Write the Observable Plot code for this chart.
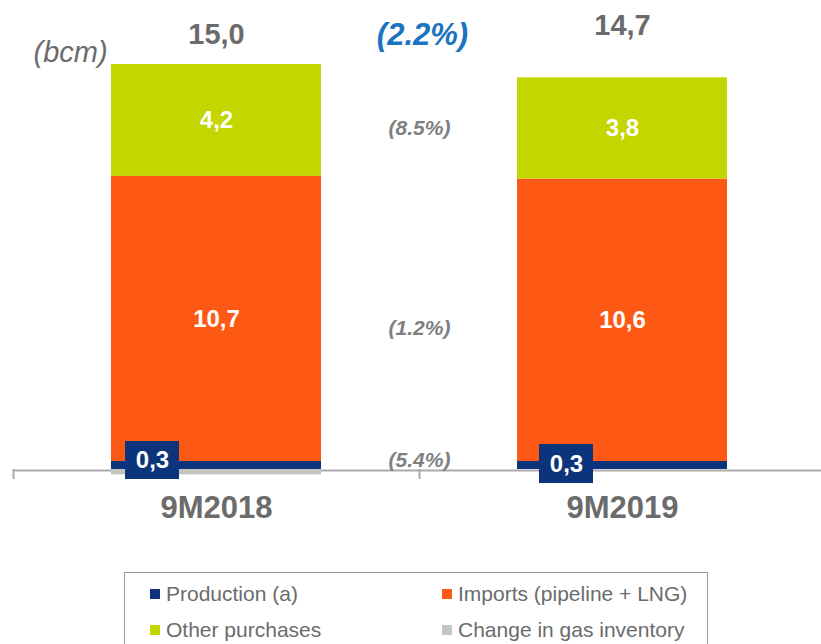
<!DOCTYPE html>
<html>
<head>
<meta charset="utf-8">
<script src="https://cdn.jsdelivr.net/npm/d3@7"></script>
<script src="https://cdn.jsdelivr.net/npm/@observablehq/plot@0.6"></script>
<style>
  html, body { margin: 0; padding: 0; background: #fff; }
  body { width: 821px; height: 644px; position: relative; overflow: hidden; font-family: "Liberation Sans", Arial, sans-serif; }
  #chart svg { display: block; }
  #legend { position: absolute; left: 124px; top: 572px; width: 584px; height: 80px; border: 1px solid #9c9c9c; border-bottom: none; box-sizing: border-box; }
  .item { position: absolute; display: flex; align-items: center; font-size: 21px; color: #6b6b6b; white-space: nowrap; }
  .sw { width: 10px; height: 10px; margin-right: 6px; }
</style>
</head>
<body>
<div id="chart"></div>
<div id="legend"></div>
<script>
// ---- data ----
const categories = ["9M2018", "9M2019"];
const series = ["Production (a)", "Imports (pipeline + LNG)", "Other purchases", "Change in gas inventory"];
const production = [0.3, 0.3];
const imports = [10.7, 10.6];
const otherPurchases = [4.2, 3.8];
const inventoryChange = [-0.2, 0.0];
const totals = [15.0, 14.7];
const seriesChange = ["(5.4%)", "(1.2%)", "(8.5%)", null];
const totalChange = "(2.2%)";
const unitLabel = "(bcm)";
const colors = ["#0c347c", "#fe5815", "#c4d600", "#c3c5c0"];

const fmt = v => d3.format(".1f")(v).replace(".", ",");

const valuesBySeries = [production, imports, otherPurchases, inventoryChange];
const data = [];
categories.forEach((cat, ci) => {
  series.forEach((s, si) => {
    data.push({cat, series: s, si, value: valuesBySeries[si][ci], pct: seriesChange[si]});
  });
});
const totalsData = categories.map((cat, i) => ({cat, total: totals[i]}));
const prodData = categories.map((cat, i) => ({cat, value: production[i]}));

const font = "'Liberation Sans', Arial, sans-serif";
const stackOpts = {x: "cat", y: "value", z: "series", order: series};

// change label between bars, placed on the 9M2019 stacked segment of series si
const changeLabel = (si, dy) => Plot.text(data, Plot.stackY({...stackOpts,
  text: d => (d.cat === categories[1] && d.si === si) ? d.pct : null,
  dx: -203, dy, lineAnchor: "middle", fill: "#808080", fontWeight: "bold", fontStyle: "italic", fontSize: 21}));

const chart = Plot.plot({
  width: 821,
  height: 572,
  marginTop: 64,
  marginBottom: 103,
  marginLeft: 13,
  marginRight: 0,
  style: {fontFamily: font, background: "white", overflow: "visible"},
  x: {domain: categories, range: [13, 825], paddingInner: 0.4828, paddingOuter: 0.2414, axis: null},
  y: {domain: [0, 15.2], axis: null},
  color: {domain: series, range: colors},
  marks: [
    // baseline axis line and band-boundary ticks
    Plot.ruleY([0], {stroke: "#ababab", strokeWidth: 2, dy: 1}),
    Plot.ruleX(categories, {x: d => d, y1: 0, y2: 0, dx: -203, insetBottom: -10, stroke: "#ababab", strokeWidth: 2}),
    // stacked bars
    Plot.barY(data, Plot.stackY({...stackOpts, fill: "series"})),
    // segment value labels
    Plot.text(data, Plot.stackY({...stackOpts,
      text: d => (d.si === 1 || d.si === 2) ? fmt(d.value) : null,
      lineAnchor: "middle", fill: "white", fontWeight: "bold", fontSize: 24})),
    // per-series change labels between bars
    changeLabel(0, -5),
    changeLabel(1, 8),
    changeLabel(2, 0),
    // production label boxes
    Plot.rect(prodData.slice(0, 1), {x: "cat", y1: 0, y2: 0, insetTop: -28, insetBottom: -10, insetLeft: 14, insetRight: 142, fill: "#0c347c"}),
    Plot.rect(prodData.slice(1, 2), {x: "cat", y1: 0, y2: 0, insetTop: -25, insetBottom: -14, insetLeft: 22, insetRight: 134, fill: "#0c347c"}),
    Plot.text(prodData.slice(0, 1), {x: "cat", frameAnchor: "bottom", lineAnchor: "middle", text: d => fmt(d.value), dx: -64, dy: -9, fill: "white", fontWeight: "bold", fontSize: 24}),
    Plot.text(prodData.slice(1, 2), {x: "cat", frameAnchor: "bottom", lineAnchor: "middle", text: d => fmt(d.value), dx: -56, dy: -5.5, fill: "white", fontWeight: "bold", fontSize: 24}),
    // totals
    Plot.text(totalsData.slice(0, 1), {x: "cat", frameAnchor: "top", lineAnchor: "middle", text: d => fmt(d.total), dy: -29.5, fill: "#6b6b6b", fontWeight: "bold", fontSize: 29}),
    Plot.text(totalsData.slice(1, 2), {x: "cat", frameAnchor: "top", lineAnchor: "middle", text: d => fmt(d.total), dy: -39, fill: "#6b6b6b", fontWeight: "bold", fontSize: 29}),
    // total change
    Plot.text([totalChange], {frameAnchor: "top", lineAnchor: "middle", text: d => d, dx: 5, dy: -29, fill: "#1a74c0", fontWeight: "bold", fontStyle: "italic", fontSize: 31}),
    // unit
    Plot.text([unitLabel], {frameAnchor: "top-left", lineAnchor: "middle", text: d => d, dx: 20, dy: -12, fill: "#6b6b6b", fontStyle: "italic", fontSize: 29}),
    // category labels
    Plot.text(categories, {x: d => d, frameAnchor: "bottom", lineAnchor: "middle", text: d => d, dy: 39, fill: "#6b6b6b", fontWeight: "bold", fontSize: 31})
  ]
});
document.getElementById("chart").appendChild(chart);

// ---- legend ----
const legend = document.getElementById("legend");
const pos = [[25, 21], [317, 21], [25, 57], [317, 57]];
series.forEach((s, i) => {
  const it = document.createElement("div");
  it.className = "item";
  it.style.left = pos[i][0] + "px";
  it.style.top = (pos[i][1] - 12) + "px";
  it.style.height = "24px";
  const sw = document.createElement("span");
  sw.className = "sw";
  sw.style.background = colors[i];
  const tx = document.createElement("span");
  tx.textContent = s;
  it.appendChild(sw);
  it.appendChild(tx);
  legend.appendChild(it);
});
</script>
</body>
</html>
